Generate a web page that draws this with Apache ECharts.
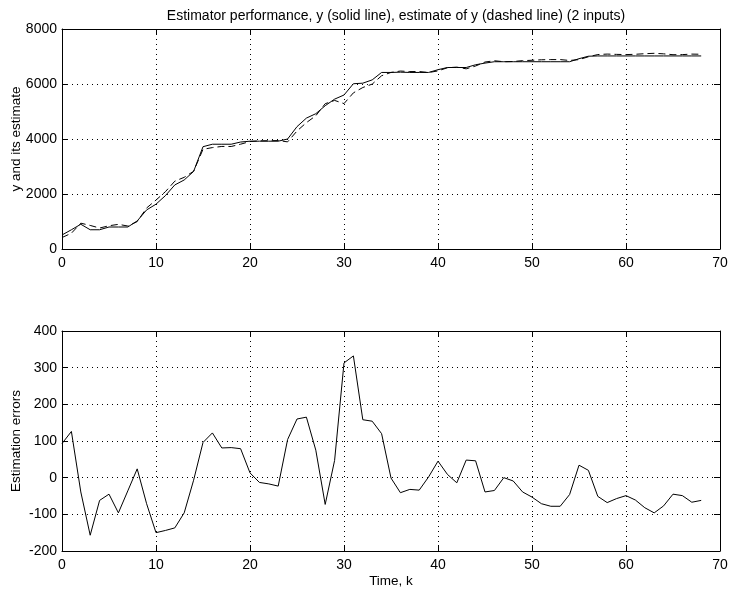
<!DOCTYPE html>
<html><head><meta charset="utf-8">
<script src="https://cdn.jsdelivr.net/npm/echarts@6/dist/echarts.min.js"></script>
<style>html,body{margin:0;padding:0;background:#fff}#c{width:730px;height:593px}</style>
</head><body><div id="c"></div>
<script>
const titleText = 'Estimator performance, y (solid line), estimate of y (dashed line) (2 inputs)';
const xTicks = [0, 10, 20, 30, 40, 50, 60, 70];
const yMeasured = [510,700,900,700,700,800,800,800,1020,1420,1630,1940,2330,2510,2820,3720,3810,3810,3810,3890,
  3920,3920,3920,3920,4000,4450,4760,4920,5210,5450,5600,6010,6030,6150,6420,6420,6430,6420,6420,6420,
  6520,6600,6600,6600,6700,6760,6810,6810,6810,6810,6810,6810,6810,6810,6810,6920,7010,7020,7020,7020,
  7020,7020,7020,7020,7020,7020,7020,7020,7020];
const yEstimate = [417,574,939,857,762,845,896,836,996,1491,1780,2084,2467,2606,2827,3624,3688,3729,3728,3811,
  3907,3933,3937,3943,3896,4290,4595,4845,5283,5403,5287,5678,5872,5996,6300,6421,6471,6452,6454,6418,
  6475,6591,6614,6552,6654,6799,6845,6810,6819,6849,6863,6881,6888,6888,6856,6886,6990,7071,7088,7077,
  7069,7081,7102,7116,7097,7065,7069,7087,7082];
const estErrors = [93,126,-39,-157,-62,-45,-96,-36,24,-71,-150,-144,-137,-96,-7,96,122,81,82,79,
  13,-13,-17,-23,104,160,165,75,-73,47,313,332,158,154,120,-1,-41,-32,-34,2,
  45,9,-14,48,46,-39,-35,0,-9,-39,-53,-71,-78,-78,-46,34,20,-51,-68,-57,
  -49,-61,-82,-96,-77,-45,-49,-67,-62];

const pairs = arr => arr.map((v, i) => [i, v]);
const font = '"Liberation Sans", Arial, Helvetica, sans-serif';
const black = '#000';
const gridLine = {show: true, lineStyle: {color: '#000', type: [1, 4], width: 1}};
const tick = {show: true, inside: true, length: 6, lineStyle: {color: black}};
const axLine = {show: true, onZero: false, lineStyle: {color: black, width: 1}};
const lbl = {color: black, fontSize: 14, fontFamily: font, formatter: v => String(v)};
const nameStyle = {color: black, fontSize: 13.5, fontFamily: font};

function xAx(gi, name) {
  return [
    {type: 'value', gridIndex: gi, min: 0, max: 70, interval: 10, position: 'bottom',
     axisLine: axLine, axisTick: tick, splitLine: gridLine,
     axisLabel: Object.assign({margin: 7}, lbl),
     name: name || '', nameLocation: 'middle', nameGap: 23, nameMoveOverlap: false,
     nameTextStyle: nameStyle},
    {type: 'value', gridIndex: gi, min: 0, max: 70, interval: 10, position: 'top',
     axisLine: axLine, axisTick: tick, splitLine: {show: false}, axisLabel: {show: false}}
  ];
}
function yAx(gi, min, max, interval, name) {
  return [
    {type: 'value', gridIndex: gi, min: min, max: max, interval: interval, position: 'left',
     axisLine: axLine, axisTick: tick, splitLine: gridLine,
     axisLabel: Object.assign({margin: 5}, lbl),
     name: name, nameLocation: 'middle', nameGap: 39, nameMoveOverlap: false,
     nameTextStyle: nameStyle},
    {type: 'value', gridIndex: gi, min: min, max: max, interval: interval, position: 'right',
     axisLine: axLine, axisTick: tick, splitLine: {show: false}, axisLabel: {show: false}}
  ];
}

const chart = echarts.init(document.getElementById('c'), null, {renderer: 'canvas'});
chart.setOption({
  animation: false,
  backgroundColor: '#fff',
  title: {text: titleText, left: 391, top: 4, textAlign: 'center',
    textStyle: {color: black, fontSize: 14, fontWeight: 'normal', fontFamily: font}},
  grid: [
    {left: 62, top: 29, width: 658, height: 220, containLabel: false, outerBoundsMode: 'none'},
    {left: 62, top: 331, width: 658, height: 220, containLabel: false, outerBoundsMode: 'none'}
  ],
  xAxis: xAx(0).concat(xAx(1, 'Time, k')),
  yAxis: yAx(0, 0, 8000, 2000, 'y and its estimate').concat(yAx(1, -200, 400, 100, 'Estimation errors')),
  series: [
    {type: 'line', xAxisIndex: 0, yAxisIndex: 0, data: pairs(yMeasured), symbol: 'none',
     lineStyle: {color: black, width: 1}},
    {type: 'line', xAxisIndex: 0, yAxisIndex: 0, data: pairs(yEstimate), symbol: 'none',
     lineStyle: {color: black, width: 1, type: [7, 4]}},
    {type: 'line', xAxisIndex: 2, yAxisIndex: 2, data: pairs(estErrors), symbol: 'none',
     lineStyle: {color: black, width: 1}}
  ]
});
</script></body></html>
